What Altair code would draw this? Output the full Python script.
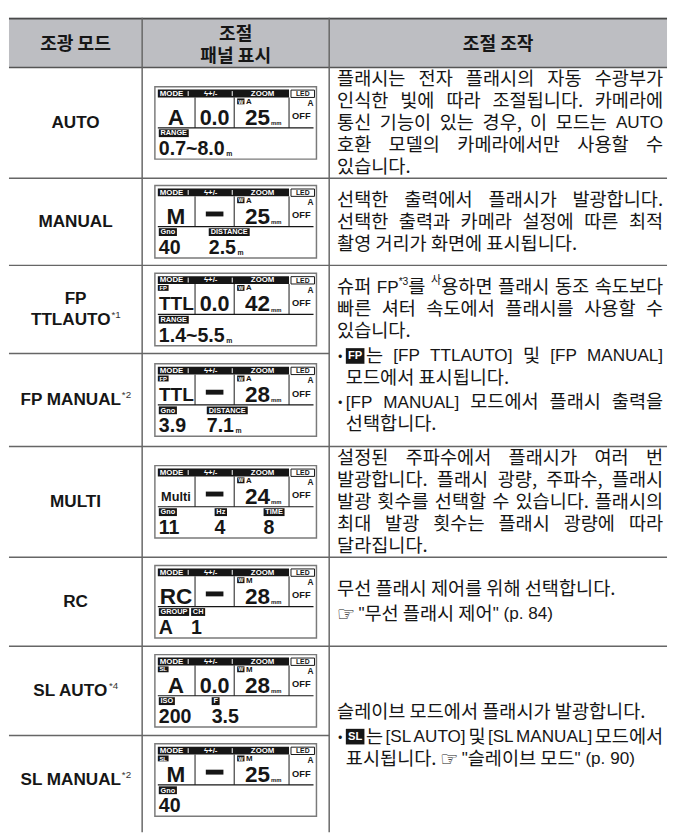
import re
import altair as alt
import pandas as pd

# ------------------------------------------------------------------ content
header_col1 = "조광 모드"
header_col2 = ["조절", "패널 표시"]
header_col3 = "조절 조작"

mode_lines = [["AUTO"], ["MANUAL"], ["FP", "TTLAUTO"], ["FP MANUAL"],
              ["MULTI"], ["RC"], ["SL AUTO"], ["SL MANUAL"]]
mode_notes = ["", "", "*1", "*2", "", "", "*4", "*2"]

bar_labels = ["MODE", "ϟ+/-", "ZOOM", "LED"]
panel_tag = ["", "", "FP", "FP", "", "", "SL", "SL"]
panel_mode = ["A", "M", "TTL", "TTL", "Multi", "RC", "A", "M"]
panel_comp = ["0.0", "", "0.0", "", "", "", "0.0", ""]      # "" -> dash bar
panel_zoom_mode = ["A", "A", "A", "A", "A", "M", "M", "M"]
panel_zoom = ["25", "25", "42", "28", "24", "28", "28", "25"]
panel_led_mode = ["A"] * 8
panel_led = ["OFF"] * 8
field_tags = [["RANGE"], ["Gno", "DISTANCE"], ["RANGE"], ["Gno", "DISTANCE"],
              ["Gno", "Hz", "TIME"], ["GROUP", "CH"], ["ISO", "F"], ["Gno"]]
field_values = [["0.7~8.0"], ["40", "2.5"], ["1.4~5.5"], ["3.9", "7.1"],
                ["11", "4", "8"], ["A", "1"], ["200", "3.5"], ["40"]]
field_units = [["m"], ["", "m"], ["m"], ["", "m"], ["", "", ""], ["", ""], ["", ""], [""]]

desc_auto = [["플래시는 전자 플래시의 자동 수광부가",
              "인식한 빛에 따라 조절됩니다. 카메라에",
              "통신 기능이 있는 경우, 이 모드는 AUTO",
              "호환 모델의 카메라에서만 사용할 수",
              "있습니다."]]
desc_manual = [["선택한 출력에서 플래시가 발광합니다.",
                "선택한 출력과 카메라 설정에 따른 최적",
                "촬영 거리가 화면에 표시됩니다."]]
desc_fp = [["슈퍼 FP^*3^를 ^사^용하면 플래시 동조 속도보다",
            "빠른 셔터 속도에서 플래시를 사용할 수",
            "있습니다."],
           ["•#FP#는 [FP TTLAUTO] 및 [FP MANUAL]",
            "모드에서 표시됩니다."],
           ["•[FP MANUAL] 모드에서 플래시 출력을",
            "선택합니다."]]
desc_multi = [["설정된 주파수에서 플래시가 여러 번",
               "발광합니다. 플래시 광량, 주파수, 플래시",
               "발광 횟수를 선택할 수 있습니다. 플래시의",
               "최대 발광 횟수는 플래시 광량에 따라",
               "달라집니다."]]
desc_rc = [["무선 플래시 제어를 위해 선택합니다."],
           ['@"무선 플래시 제어" (p. 84)']]
desc_sl = [["슬레이브 모드에서 플래시가 발광합니다."],
           ["•#SL#는 [SL AUTO] 및 [SL MANUAL] 모드에서",
            '표시됩니다. @"슬레이브 모드" (p. 90)']]
desc_blocks = [desc_auto, desc_manual, desc_fp, desc_multi, desc_rc, desc_sl]
desc_rows = [(0, 1), (1, 2), (2, 4), (4, 5), (5, 6), (6, 8)]

# ------------------------------------------------------------------ layout
X0, Y0 = 6, 6          # reference pixel shown at the chart's top-left corner
W, H = 668, 820
T_LEFT, T_RIGHT = 4, 676
C1, C2 = 140, 331
TOP, HEAD_B = 6, 57
row_edges = [57, 170, 259, 349, 444, 557, 648, 739, 830]
V_BOTTOM = 838
TXT_L, TXT_R = 339, 672
PANEL_W, PANEL_H = 165, 74
field_x = [[4], [4, 55], [4], [4, 53], [4, 61, 111], [4, 37], [4, 58], [4]]
LS, PG, FS = 22.5, 2.5, 19
LR = 0.92          # Latin size relative to Korean size in the description column

KR = "Noto Sans CJK KR"
LAT = "Liberation Sans"
INK = "#161616"

texts, rects, rules = [], [], []


def T(x, y, s, size, color=INK, align="left", font=KR, weight="normal"):
    texts.append(dict(x=x, y=y, t=s, size=size, color=color, align=align,
                      font=font, weight=weight))


def R(x, x2, y, y2, fill, stroke="transparent", sw=0):
    rects.append(dict(x=x, x2=x2, y=y, y2=y2, fill=fill, stroke=stroke, sw=sw))


def L(x, x2, y, y2, color, sw):
    rules.append(dict(x=x, x2=x2, y=y, y2=y2, color=color, sw=sw))


# Liberation Sans Bold advance widths (em)
AB = {'A': .722, 'B': .722, 'C': .722, 'D': .722, 'E': .667, 'F': .611, 'G': .778,
      'H': .722, 'I': .278, 'K': .722, 'L': .611, 'M': .833, 'N': .722, 'O': .778,
      'P': .667, 'R': .722, 'S': .667, 'T': .611, 'U': .722, 'Z': .611, ' ': .278,
      '.': .278, '~': .584, 'm': .889, 'n': .611, 'o': .611, 'z': .5}
# Liberation Sans Regular advance widths (em)
AR = {'A': .667, 'U': .722, 'T': .611, 'O': .778, 'F': .611, 'P': .667, 'M': .833,
      'N': .722, 'L': .556, 'S': .667, 'C': .722, 'R': .722, 'I': .278, ' ': .278,
      '[': .278, ']': .278, '(': .333, ')': .333, '"': .355, '.': .278, ',': .278,
      '*': .389, 'p': .556}


def ab_w(s, f):
    return sum(.556 if c.isdigit() else AB.get(c, .58) for c in s) * f


def ar_w(s, f):
    return sum(.556 if c.isdigit() else AR.get(c, .556) for c in s) * f


def kr_w(s, f):
    w = 0
    for c in s:
        if 0xAC00 <= ord(c) <= 0xD7A3:
            w += .92
        elif c == ' ':
            w += .224
        else:
            w += .25
    return w * f


def runs(s):
    """split a string into Korean ('k') and Latin ('l') runs"""
    out, cur, cls = [], '', None
    for c in s:
        if 0xAC00 <= ord(c) <= 0xD7A3:
            k = 'k'
        elif c in ' .,':
            k = None
        else:
            k = 'l'
        if k is None or cls is None or k == cls:
            cur += c
            if cls is None:
                cls = k
        else:
            out.append((cls or 'k', cur))
            cur, cls = c, k
    if cur:
        out.append((cls or 'k', cur))
    return out


def run_w(cls, s, f):
    return kr_w(s, f) if cls == 'k' else ar_w(s, f * LR)


def draw_run(cls, s, x, y, f, align="left"):
    if cls == 'k':
        T(x, y, s, f, align=align)
    else:
        T(x, y + .5, s, f * LR, align=align, font=LAT)


def segs(text):
    out = []
    for p in re.split(r'(\^[^^]*\^|#[A-Z]+#|@)', text):
        if not p:
            continue
        if p.startswith('^'):
            out.append(('s', p[1:-1]))
        elif p.startswith('#'):
            out.append(('i', p[1:-1]))
        elif p == '@':
            out.append(('h', '☞'))
        else:
            out.append(('n', p))
    return out


def seg_w(k, s, f):
    if k == 'n':
        return sum(run_w(c, r, f) for c, r in runs(s))
    if k == 's':
        return sum(run_w(c, r, f * .6) for c, r in runs(s))
    if k == 'i':
        return f * 1.0 + 1.5
    return f * 1.15


def draw_segs(sg, x, y, f, right=None):
    if right is not None and len(sg) == 1 and sg[0][0] == 'n' and len(runs(sg[0][1])) == 1:
        c, r = runs(sg[0][1])[0]
        draw_run(c, r, right, y, f, align="right")
        return
    for k, s in sg:
        if k == 'n':
            xx = x
            for c, r in runs(s):
                draw_run(c, r, xx, y, f)
                xx += run_w(c, r, f)
        elif k == 's':
            xx = x
            for c, r in runs(s):
                draw_run(c, r, xx, y - f * .33, f * .6)
                xx += run_w(c, r, f * .6)
        elif k == 'i':
            R(x, x + f * 1.0, y - f * .42, y + f * .42, INK)
            T(x + f * .5, y + .5, s, f * .6, "white", "center", LAT, "bold")
        else:
            T(x, y + 1, s, f * 1.1, font="DejaVu Sans")
        x += seg_w(k, s, f)


def draw_line(line, x_left, y, justify):
    toks = line.split(' ')
    if not justify or len(toks) < 2:
        draw_segs(segs(line), x_left, y, FS)
        return
    ws = [sum(seg_w(k, s, FS) for k, s in segs(t)) for t in toks]
    gap = (TXT_R - x_left - sum(ws)) / (len(toks) - 1)
    x = x_left
    for i, (t, w) in enumerate(zip(toks, ws)):
        last = i == len(toks) - 1
        draw_segs(segs(t), x, y, FS, right=TXT_R if last else None)
        x += w + gap


# ------------------------------------------------------------------ table frame
R(T_LEFT, T_RIGHT, TOP, HEAD_B, "#bdbec2")
L(T_LEFT, T_RIGHT, TOP + 1, TOP + 1, "#4a4a4a", 2)
L(T_LEFT, T_RIGHT, HEAD_B, HEAD_B, "#555555", 1.5)
for xc in (C1, C2):
    L(xc, xc, TOP, V_BOTTOM, "#666666", 1.5)
for i in range(1, len(row_edges) - 1):
    right = C2 if i in (3, 7) else T_RIGHT
    L(T_LEFT, right, row_edges[i], row_edges[i], "#666666", 1.5)

col1_c = (T_LEFT + C1) / 2
col2_c = (C1 + C2) / 2
col3_c = (C2 + T_RIGHT) / 2
T(col1_c, 33, header_col1, 18.5, align="center", weight="bold")
T(col2_c, 22.5, header_col2[0], 18.5, align="center", weight="bold")
T(col2_c, 45, header_col2[1], 18.5, align="center", weight="bold")
T(col3_c, 33, header_col3, 18.5, align="center", weight="bold")

# ------------------------------------------------------------------ column 1
MF = 17.5
for i, lines in enumerate(mode_lines):
    cy = (row_edges[i] + row_edges[i + 1]) / 2
    n = len(lines)
    for j, ln in enumerate(lines):
        y = cy + (j - (n - 1) / 2) * 22
        note = mode_notes[i] if j == n - 1 else ""
        if note:
            mw = ab_w(ln, MF)
            nw = 9.5
            x0 = col1_c - (mw + nw) / 2
            T(x0, y, ln, MF, align="left", font=LAT, weight="bold")
            T(x0 + mw + 0.5, y - 5, note, 10, "#333333", "left", LAT)
        else:
            T(col1_c, y, ln, MF, align="center", font=LAT, weight="bold")

# ------------------------------------------------------------------ column 2 panels
for i in range(8):
    cy = (row_edges[i] + row_edges[i + 1]) / 2
    px = col2_c - PANEL_W / 2
    py = cy - PANEL_H / 2
    R(px, px + PANEL_W, py, py + PANEL_H, "white", "#7a7a7a", 1.5)
    R(px + 3, px + 137, py + 3, py + 11, INK)
    T(px + 5, py + 7.3, bar_labels[0], 8, "white", "left", LAT, "bold")
    T(px + 57, py + 7.3, bar_labels[1], 8, "white", "center", LAT, "bold")
    T(px + 110, py + 7.3, bar_labels[2], 8, "white", "center", LAT, "bold")
    for sx in (34, 79):
        L(px + sx, px + sx, py + 4.5, py + 9.5, "white", 1)
    R(px + 139, px + 163, py + 3.5, py + 11, "white", INK, 1)
    T(px + 151, py + 7.5, bar_labels[3], 7, INK, "center", LAT, "bold")
    for sx in (41, 81, 137):
        L(px + sx, px + sx, py + 11, py + 42, INK, 1)
    L(px + 3, px + 162, py + 42, py + 42, INK, 1.2)
    # mode column
    if panel_tag[i]:
        R(px + 3, px + 14, py + 12, py + 18, INK)
        T(px + 8.5, py + 15.2, panel_tag[i], 6, "white", "center", LAT, "bold")
    mv = panel_mode[i]
    if len(mv) > 3:
        T(px + 21.5, py + 32, mv, 13, INK, "center", LAT, "bold")
    elif len(mv) == 3:
        T(px + 22, py + 32, mv, 19.5, INK, "center", LAT, "bold")
    else:
        T(px + 21.5, py + 32, mv, 23, INK, "center", LAT, "bold")
    # +/- column
    if panel_comp[i]:
        T(px + 61, py + 32, panel_comp[i], 22, INK, "center", LAT, "bold")
    else:
        R(px + 52, px + 70, py + 26.5, py + 31.5, INK)
    # zoom column
    R(px + 84, px + 91.5, py + 12, py + 18, INK)
    T(px + 87.75, py + 15.2, "W", 5.5, "white", "center", LAT, "bold")
    T(px + 93, py + 15.5, panel_zoom_mode[i], 8, INK, "left", LAT, "bold")
    T(px + 117.5, py + 32, panel_zoom[i], 23, INK, "right", LAT, "bold")
    T(px + 118.5, py + 37.5, "mm", 6, INK, "left", LAT, "bold")
    # LED column
    T(px + 162, py + 17, panel_led_mode[i], 8.5, INK, "right", LAT, "bold")
    T(px + 149.5, py + 30.5, panel_led[i], 9.5, INK, "center", LAT, "bold")
    # lower fields
    for tag, val, unit, fx in zip(field_tags[i], field_values[i], field_units[i], field_x[i]):
        tw = ab_w(tag, 7.5) + 3.5
        R(px + fx, px + fx + tw, py + 43.5, py + 51.5, INK)
        T(px + fx + tw / 2, py + 47.8, tag, 7.5, "white", "center", LAT, "bold")
        T(px + fx, py + 64, val, 20, INK, "left", LAT, "bold")
        if unit:
            T(px + fx + ab_w(val, 20) + 1.5, py + 69, unit, 7, INK, "left", LAT, "bold")

# ------------------------------------------------------------------ column 3 text
for block, (r0, r1) in zip(desc_blocks, desc_rows):
    cy = (row_edges[r0] + row_edges[r1]) / 2
    nlines = sum(len(p) for p in block)
    span = (nlines - 1) * LS + (len(block) - 1) * PG
    y = cy - span / 2
    for para in block:
        indent = 0
        for j, line in enumerate(para):
            if j == 0 and line.startswith('•'):
                T(TXT_L + 1, y, '•', FS * .7)
                indent = 9
                line = line[1:]
            draw_line(line, TXT_L + indent, y, justify=(j < len(para) - 1))
            y += LS
        y += PG

# ------------------------------------------------------------------ chart
XS = alt.Scale(domain=[X0, X0 + W], nice=False, zero=False)
YS = alt.Scale(domain=[Y0, Y0 + H], nice=False, zero=False, reverse=True)

rect_df = pd.DataFrame(rects)
rule_df = pd.DataFrame(rules)
text_df = pd.DataFrame(texts)

layers = [
    alt.Chart(rect_df).mark_rect().encode(
        x=alt.X("x:Q", scale=XS, axis=None), x2="x2:Q",
        y=alt.Y("y:Q", scale=YS, axis=None), y2="y2:Q",
        fill=alt.Fill("fill:N", scale=None),
        stroke=alt.Stroke("stroke:N", scale=None),
        strokeWidth=alt.StrokeWidth("sw:Q", scale=None)),
    alt.Chart(rule_df).mark_rule().encode(
        x=alt.X("x:Q", scale=XS, axis=None), x2="x2:Q",
        y=alt.Y("y:Q", scale=YS, axis=None), y2="y2:Q",
        color=alt.Color("color:N", scale=None),
        strokeWidth=alt.StrokeWidth("sw:Q", scale=None)),
]
for (al, fo, we), g in text_df.groupby(["align", "font", "weight"]):
    layers.append(
        alt.Chart(g.reset_index(drop=True)).mark_text(
            align=al, baseline="middle", font=fo, fontWeight=we).encode(
            x=alt.X("x:Q", scale=XS, axis=None),
            y=alt.Y("y:Q", scale=YS, axis=None),
            text="t:N",
            size=alt.Size("size:Q", scale=None),
            color=alt.Color("color:N", scale=None)))

chart = alt.layer(*layers).properties(
    width=W, height=H, padding=0, background="white"
).configure_view(stroke=None)

chart.save("out.html", embed_options={"renderer": "svg", "actions": False})
